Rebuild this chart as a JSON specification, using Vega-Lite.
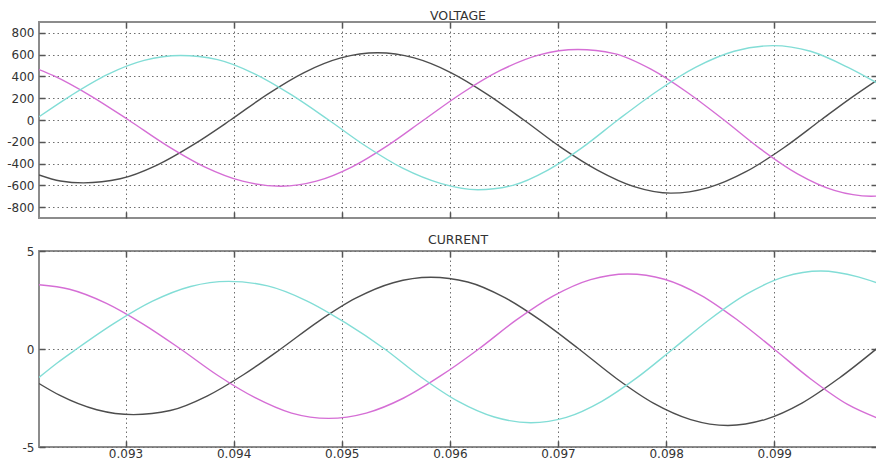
{
  "$schema": "https://vega.github.io/schema/vega-lite/v6.json",
  "padding": {"left": 5, "top": 8, "right": 0, "bottom": 0},
  "background": "white",
  "config": {
    "locale": {"number": {"decimal": ".", "thousands": ",", "grouping": [3], "currency": ["$", ""], "minus": "-"}},
    "view": {"stroke": "#8c8c8c", "strokeWidth": 2},
    "font": "DejaVu Sans",
    "axis": {"domain": false, "gridColor": "#6e6e6e", "gridDash": [1.5, 3], "gridWidth": 1, "gridOpacity": 1, "tickColor": "#555555", "tickWidth": 1.5, "tickSize": -6, "labelFont": "DejaVu Sans", "labelFontSize": 12, "labelColor": "#333333", "title": null},
    "title": {"font": "DejaVu Sans", "fontSize": 12.5, "fontWeight": "normal", "color": "#333333", "offset": -1},
    "concat": {"spacing": 12}
  },
  "datasets": {
    "voltage": [
      {"t":0.0922,"v":-505,"p":"K"},{"t":0.092398,"v":-560,"p":"K"},{"t":0.092611,"v":-577,"p":"K"},{"t":0.092951,"v":-540,"p":"K"},{"t":0.093292,"v":-414,"p":"K"},{"t":0.093632,"v":-224,"p":"K"},{"t":0.093972,"v":0,"p":"K"},{"t":0.094312,"v":236,"p":"K"},{"t":0.094652,"v":436,"p":"K"},{"t":0.094992,"v":570,"p":"K"},{"t":0.095332,"v":617,"p":"K"},{"t":0.09567,"v":570,"p":"K"},{"t":0.096008,"v":436,"p":"K"},{"t":0.096346,"v":236,"p":"K"},{"t":0.096684,"v":0,"p":"K"},{"t":0.097024,"v":-249,"p":"K"},{"t":0.097364,"v":-460,"p":"K"},{"t":0.097704,"v":-612,"p":"K"},{"t":0.098044,"v":-672,"p":"K"},{"t":0.098391,"v":-621,"p":"K"},{"t":0.098738,"v":-475,"p":"K"},{"t":0.099085,"v":-257,"p":"K"},{"t":0.099432,"v":0,"p":"K"},{"t":0.099691,"v":190,"p":"K"},{"t":0.09995,"v":366,"p":"K"},
      {"t":0.0922,"v":463,"p":"M"},{"t":0.092334,"v":407,"p":"M"},{"t":0.092681,"v":220,"p":"M"},{"t":0.093028,"v":0,"p":"M"},{"t":0.09338,"v":-233,"p":"M"},{"t":0.093731,"v":-430,"p":"M"},{"t":0.094083,"v":-562,"p":"M"},{"t":0.094435,"v":-608,"p":"M"},{"t":0.094765,"v":-562,"p":"M"},{"t":0.095096,"v":-430,"p":"M"},{"t":0.095427,"v":-233,"p":"M"},{"t":0.095758,"v":0,"p":"M"},{"t":0.096114,"v":248,"p":"M"},{"t":0.096471,"v":457,"p":"M"},{"t":0.096827,"v":598,"p":"M"},{"t":0.097183,"v":647,"p":"M"},{"t":0.097521,"v":610,"p":"M"},{"t":0.097859,"v":467,"p":"M"},{"t":0.098197,"v":253,"p":"M"},{"t":0.098535,"v":0,"p":"M"},{"t":0.098875,"v":-268,"p":"M"},{"t":0.099215,"v":-495,"p":"M"},{"t":0.099555,"v":-647,"p":"M"},{"t":0.099895,"v":-700,"p":"M"},{"t":0.09995,"v":-699,"p":"M"},
      {"t":0.0922,"v":30,"p":"C"},{"t":0.092499,"v":227,"p":"C"},{"t":0.092836,"v":419,"p":"C"},{"t":0.093172,"v":547,"p":"C"},{"t":0.093509,"v":592,"p":"C"},{"t":0.093851,"v":554,"p":"C"},{"t":0.094194,"v":424,"p":"C"},{"t":0.094536,"v":230,"p":"C"},{"t":0.094879,"v":0,"p":"C"},{"t":0.095224,"v":-241,"p":"C"},{"t":0.095568,"v":-445,"p":"C"},{"t":0.095913,"v":-582,"p":"C"},{"t":0.096258,"v":-641,"p":"C"},{"t":0.096582,"v":-600,"p":"C"},{"t":0.096906,"v":-460,"p":"C"},{"t":0.09723,"v":-249,"p":"C"},{"t":0.097553,"v":0,"p":"C"},{"t":0.097912,"v":262,"p":"C"},{"t":0.098271,"v":483,"p":"C"},{"t":0.098629,"v":631,"p":"C"},{"t":0.098988,"v":683,"p":"C"},{"t":0.099335,"v":631,"p":"C"},{"t":0.099682,"v":483,"p":"C"},{"t":0.09995,"v":340,"p":"C"}
    ],
    "current": [
      {"t":0.0922,"v":-1.76,"p":"K"},{"t":0.092394,"v":-2.37,"p":"K"},{"t":0.092734,"v":-3.1,"p":"K"},{"t":0.093074,"v":-3.35,"p":"K"},{"t":0.093414,"v":-3.14,"p":"K"},{"t":0.093754,"v":-2.4,"p":"K"},{"t":0.094094,"v":-1.3,"p":"K"},{"t":0.094435,"v":0,"p":"K"},{"t":0.094782,"v":1.4,"p":"K"},{"t":0.095129,"v":2.59,"p":"K"},{"t":0.095476,"v":3.38,"p":"K"},{"t":0.095823,"v":3.66,"p":"K"},{"t":0.096165,"v":3.42,"p":"K"},{"t":0.096508,"v":2.62,"p":"K"},{"t":0.09685,"v":1.42,"p":"K"},{"t":0.097193,"v":0,"p":"K"},{"t":0.097537,"v":-1.49,"p":"K"},{"t":0.097882,"v":-2.76,"p":"K"},{"t":0.098227,"v":-3.6,"p":"K"},{"t":0.098572,"v":-3.9,"p":"K"},{"t":0.098914,"v":-3.6,"p":"K"},{"t":0.099256,"v":-2.76,"p":"K"},{"t":0.099599,"v":-1.49,"p":"K"},{"t":0.09995,"v":0.03,"p":"K"},
      {"t":0.0922,"v":3.28,"p":"M"},{"t":0.092482,"v":3.05,"p":"M"},{"t":0.092824,"v":2.33,"p":"M"},{"t":0.093167,"v":1.26,"p":"M"},{"t":0.093509,"v":0,"p":"M"},{"t":0.093851,"v":-1.34,"p":"M"},{"t":0.094194,"v":-2.47,"p":"M"},{"t":0.094536,"v":-3.27,"p":"M"},{"t":0.094879,"v":-3.54,"p":"M"},{"t":0.095226,"v":-3.27,"p":"M"},{"t":0.095573,"v":-2.5,"p":"M"},{"t":0.09592,"v":-1.35,"p":"M"},{"t":0.096267,"v":0,"p":"M"},{"t":0.096612,"v":1.47,"p":"M"},{"t":0.096957,"v":2.71,"p":"M"},{"t":0.097301,"v":3.54,"p":"M"},{"t":0.097646,"v":3.83,"p":"M"},{"t":0.097984,"v":3.56,"p":"M"},{"t":0.098322,"v":2.74,"p":"M"},{"t":0.098659,"v":1.48,"p":"M"},{"t":0.098997,"v":0,"p":"M"},{"t":0.099337,"v":-1.53,"p":"M"},{"t":0.099678,"v":-2.83,"p":"M"},{"t":0.09995,"v":-3.52,"p":"M"},
      {"t":0.0922,"v":-1.45,"p":"C"},{"t":0.092371,"v":-0.7,"p":"C"},{"t":0.092547,"v":0,"p":"C"},{"t":0.092898,"v":1.32,"p":"C"},{"t":0.09325,"v":2.44,"p":"C"},{"t":0.093602,"v":3.19,"p":"C"},{"t":0.093953,"v":3.45,"p":"C"},{"t":0.094314,"v":3.22,"p":"C"},{"t":0.094675,"v":2.46,"p":"C"},{"t":0.095036,"v":1.33,"p":"C"},{"t":0.095397,"v":0,"p":"C"},{"t":0.095735,"v":-1.44,"p":"C"},{"t":0.096073,"v":-2.66,"p":"C"},{"t":0.096411,"v":-3.47,"p":"C"},{"t":0.096748,"v":-3.76,"p":"C"},{"t":0.097077,"v":-3.49,"p":"C"},{"t":0.097405,"v":-2.67,"p":"C"},{"t":0.097734,"v":-1.45,"p":"C"},{"t":0.098063,"v":0,"p":"C"},{"t":0.098405,"v":1.52,"p":"C"},{"t":0.098747,"v":2.81,"p":"C"},{"t":0.09909,"v":3.68,"p":"C"},{"t":0.099432,"v":3.98,"p":"C"},{"t":0.099775,"v":3.68,"p":"C"},{"t":0.09995,"v":3.38,"p":"C"}
    ]
  },
  "vconcat": [
    {
      "title": {"text": "VOLTAGE"},
      "width": 838,
      "height": 196,
      "data": {"name": "voltage"},
      "resolve": {"axis": {"x": "independent", "y": "independent"}},
      "layer": [
        {
          "mark": {"type": "line", "interpolate": "monotone", "strokeWidth": 1.4, "clip": true},
          "encoding": {
            "x": {"field": "t", "type": "quantitative", "scale": {"domain": [0.0922, 0.09995], "nice": false, "zero": false}, "axis": {"orient": "bottom", "values": [0.093, 0.094, 0.095, 0.096, 0.097, 0.098, 0.099], "labels": false, "grid": true}},
            "y": {"field": "v", "type": "quantitative", "scale": {"domain": [-900, 900], "nice": false}, "axis": {"orient": "left", "values": [-800, -600, -400, -200, 0, 200, 400, 600, 800], "grid": true, "labelPadding": 11}},
            "color": {"field": "p", "type": "nominal", "scale": {"domain": ["K", "M", "C"], "range": ["#4d4d4d", "#d56ed5", "#82ddd6"]}, "legend": null}
          }
        },
        {
          "mark": {"type": "line", "opacity": 0},
          "encoding": {
            "x": {"field": "t", "type": "quantitative", "scale": {"domain": [0.0922, 0.09995], "nice": false, "zero": false}, "axis": {"orient": "top", "values": [0.093, 0.094, 0.095, 0.096, 0.097, 0.098, 0.099], "labels": false, "grid": false}},
            "y": {"field": "v", "type": "quantitative", "scale": {"domain": [-900, 900], "nice": false}, "axis": {"orient": "right", "values": [-800, -600, -400, -200, 0, 200, 400, 600, 800], "labels": false, "grid": false}},
            "detail": {"field": "p"}
          }
        }
      ]
    },
    {
      "title": {"text": "CURRENT"},
      "width": 838,
      "height": 196,
      "data": {"name": "current"},
      "resolve": {"axis": {"x": "independent", "y": "independent"}},
      "layer": [
        {
          "mark": {"type": "line", "interpolate": "monotone", "strokeWidth": 1.4, "clip": true},
          "encoding": {
            "x": {"field": "t", "type": "quantitative", "scale": {"domain": [0.0922, 0.09995], "nice": false, "zero": false}, "axis": {"orient": "bottom", "values": [0.093, 0.094, 0.095, 0.096, 0.097, 0.098, 0.099], "format": ".3f", "grid": true, "labelPadding": 7}},
            "y": {"field": "v", "type": "quantitative", "scale": {"domain": [-5, 5], "nice": false}, "axis": {"orient": "left", "values": [-5, 0, 5], "grid": true, "labelPadding": 11}},
            "color": {"field": "p", "type": "nominal", "scale": {"domain": ["K", "M", "C"], "range": ["#4d4d4d", "#d56ed5", "#82ddd6"]}, "legend": null}
          }
        },
        {
          "mark": {"type": "line", "opacity": 0},
          "encoding": {
            "x": {"field": "t", "type": "quantitative", "scale": {"domain": [0.0922, 0.09995], "nice": false, "zero": false}, "axis": {"orient": "top", "values": [0.093, 0.094, 0.095, 0.096, 0.097, 0.098, 0.099], "labels": false, "grid": false}},
            "y": {"field": "v", "type": "quantitative", "scale": {"domain": [-5, 5], "nice": false}, "axis": {"orient": "right", "values": [-5, 0, 5], "labels": false, "grid": false}},
            "detail": {"field": "p"}
          }
        }
      ]
    }
  ]
}
